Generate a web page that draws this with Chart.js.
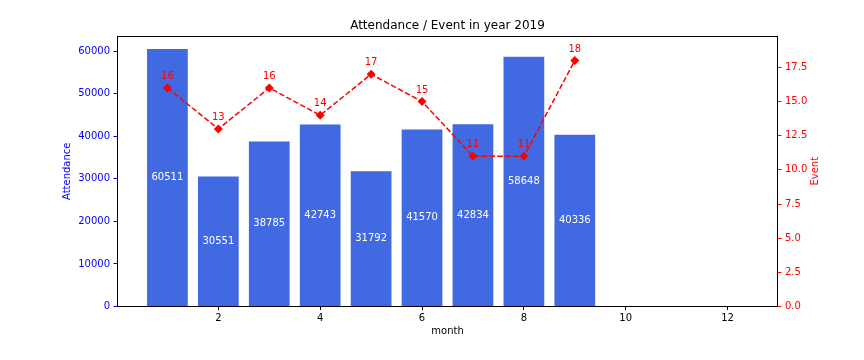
<!DOCTYPE html>
<html>
<head>
<meta charset="utf-8">
<script src="https://cdn.jsdelivr.net/npm/chart.js@4/dist/chart.umd.min.js"></script>
<style>
  html, body { margin: 0; padding: 0; background: #ffffff; }
  #wrap { width: 864px; height: 360px; }
</style>
</head>
<body>
<div id="wrap"><canvas id="c" width="864" height="360"></canvas></div>
<script>
const months = [1, 2, 3, 4, 5, 6, 7, 8, 9];
const attendance = [60511, 30551, 38785, 42743, 31792, 41570, 42834, 58648, 40336];
const events = [16, 13, 16, 14, 17, 15, 11, 11, 18];
const xTicks = [2, 4, 6, 8, 10, 12];
const attendanceTicks = [0, 10000, 20000, 30000, 40000, 50000, 60000];
const eventTicks = [0, 2.5, 5, 7.5, 10, 12.5, 15, 17.5];

const FONT = 'DejaVu Sans';

const barData = months.map((m, i) => ({ x: m, y: attendance[i] }));
const lineData = months.map((m, i) => ({ x: m, y: events[i] }));

const setTicks = (arr) => (scale) => { scale.ticks = arr.map(v => ({ value: v })); };

const labelPlugin = {
  id: 'valueLabels',
  afterDatasetsDraw(chart) {
    const ctx = chart.ctx;
    ctx.save();
    ctx.font = '10px "' + FONT + '"';
    ctx.textAlign = 'center';
    const barMeta = chart.getDatasetMeta(0);
    ctx.fillStyle = '#ffffff';
    ctx.textBaseline = 'middle';
    barMeta.data.forEach((el, i) => {
      ctx.fillText(String(attendance[i]), el.x, (el.y + el.base) / 2);
    });
    const lineMeta = chart.getDatasetMeta(1);
    ctx.fillStyle = '#ff0000';
    ctx.textBaseline = 'alphabetic';
    lineMeta.data.forEach((el, i) => {
      ctx.fillText(String(events[i]), el.x, el.y - 9);
    });
    ctx.restore();
  }
};

const framePlugin = {
  id: 'frame',
  afterDraw(chart) {
    const a = chart.chartArea;
    const ctx = chart.ctx;
    ctx.save();
    ctx.strokeStyle = '#000000';
    ctx.lineWidth = 1;
    ctx.strokeRect(Math.round(a.left) + 0.5, Math.round(a.top) + 0.5,
                   Math.round(a.right - a.left) - 1, Math.round(a.bottom - a.top) - 1);
    // right axis title, reading bottom-to-top like the reference
    const s = chart.scales.y1;
    ctx.fillStyle = '#ff0000';
    ctx.font = '10px "' + FONT + '"';
    ctx.textAlign = 'center';
    ctx.textBaseline = 'middle';
    ctx.translate(s.right - 49, (a.top + a.bottom) / 2);
    ctx.rotate(-Math.PI / 2);
    ctx.fillText('Event', 0, 0);
    ctx.restore();
  }
};

new Chart(document.getElementById('c'), {
  type: 'bar',
  data: {
    datasets: [
      {
        type: 'bar',
        label: 'Attendance',
        data: barData,
        backgroundColor: '#4169e1',
        borderWidth: 0,
        barPercentage: 0.8,
        categoryPercentage: 1.0,
        yAxisID: 'y',
        order: 1
      },
      {
        type: 'line',
        label: 'Event',
        data: lineData,
        borderColor: '#ff0000',
        backgroundColor: '#ff0000',
        borderWidth: 1.5,
        borderDash: [5.5, 2.4],
        pointStyle: 'rectRot',
        pointRadius: 4.5,
        pointBorderWidth: 0,
        pointBackgroundColor: '#ff0000',
        fill: false,
        tension: 0,
        yAxisID: 'y1',
        order: 0
      }
    ]
  },
  options: {
    responsive: false,
    animation: false,
    devicePixelRatio: 1,
    layout: { padding: { left: 31, right: 0, top: 0, bottom: 0 } },
    plugins: {
      legend: { display: false },
      tooltip: { enabled: false },
      title: {
        display: true,
        text: 'Attendance / Event in year 2019',
        color: '#000000',
        font: { family: FONT, size: 12, weight: 'normal' },
        padding: { top: 19, bottom: 2.6 }
      }
    },
    scales: {
      x: {
        type: 'linear',
        position: 'bottom',
        min: 0.01,
        max: 12.99,
        offset: false,
        afterBuildTicks: setTicks(xTicks),
        afterFit: (s) => { s.height = 53.5; },
        grid: { offset: false, drawOnChartArea: false, drawTicks: true, tickLength: 3.5, color: '#000000' },
        border: { display: false },
        ticks: { color: '#000000', font: { family: FONT, size: 10 }, padding: 2, maxRotation: 0, autoSkip: false },
        title: { display: true, text: 'month', color: '#000000', font: { family: FONT, size: 10 }, padding: { top: 0, bottom: 23 } }
      },
      y: {
        type: 'linear',
        position: 'left',
        min: 0,
        max: 63536.55,
        afterBuildTicks: setTicks(attendanceTicks),
        afterFit: (s) => { s.width = 86; },
        grid: { drawOnChartArea: false, drawTicks: true, tickLength: 3.5, color: '#0000ff' },
        border: { display: false },
        ticks: { color: '#0000ff', font: { family: FONT, size: 10 }, padding: 3.5,
                 callback: (v) => String(v) },
        title: { display: true, text: 'Attendance', color: '#0000ff', font: { family: FONT, size: 10 }, padding: { top: 30.5, bottom: 0 } }
      },
      y1: {
        type: 'linear',
        position: 'right',
        min: 0,
        max: 19.8,
        afterBuildTicks: setTicks(eventTicks),
        afterFit: (s) => { s.width = 86; },
        grid: { drawOnChartArea: false, drawTicks: true, tickLength: 3.5, color: '#ff0000' },
        border: { display: false },
        ticks: { color: '#ff0000', font: { family: FONT, size: 10 }, padding: 3.5,
                 callback: (v) => Number(v).toFixed(1) },
        title: { display: false }
      }
    }
  },
  plugins: [labelPlugin, framePlugin]
});
</script>
</body>
</html>
